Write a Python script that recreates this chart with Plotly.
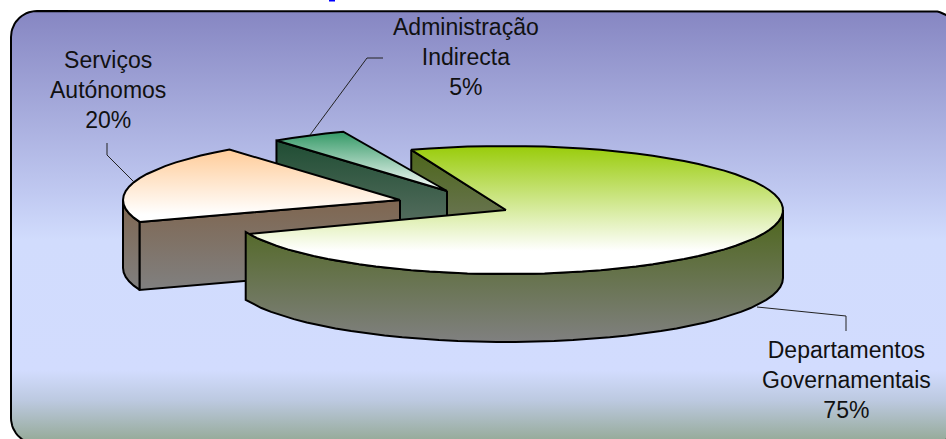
"""Exploded 3D-look pie chart on a rounded gradient panel."""

import numpy as np
import plotly.graph_objects as go

CATEGORIES = ["Departamentos<br>Governamentais", "Serviços<br>Autónomos", "Administração<br>Indirecta"]
VALUES = [75, 20, 5]

TOP_COLORS = [
    [[0, "#99cc0a"], [0.82, "#ffffff"], [1, "#ffffff"]],
    [[0, "#ffcc99"], [0.9, "#ffffff"], [1, "#ffffff"]],
    [[0, "#339966"], [1, "#ffffff"]],
]
WALL_COLORS = [
    [[0, "#4d661a"], [1, "#808080"]],
    [[0, "#7f6650"], [1, "#808080"]],
    [[0, "#1f4d33"], [1, "#6b7a70"]],
]
PANEL_COLORS = [
    [0, "#8686c2"], [0.42, "#c0c9f1"], [0.53, "#d1dcfd"],
    [0.83, "#d2dcfe"], [0.9, "#bcc9e0"], [1, "#93a893"],
]

RX, RY, DEPTH = 277, 64, 68
START_ANGLE = -20
CENTERS = [(506, 210), (400, 200), (447, 191)]
LABEL_POS = [(846, 380), (108, 90), (466, 57)]
LEADERS = [
    ([757, 846, 846], [307, 316, 331]),
    ([134, 107, 107], [182, 155, 143]),
    ([310, 367, 383], [135, 58, 58]),
]


def arc(center, a0, a1, drop=0):
    t = np.radians(np.arange(a0, a1 + 0.1, 4.0))
    return center[0] + RX * np.sin(t), center[1] - RY * np.cos(t) + drop


def add_poly(fig, x, y, colors):
    # the y axis runs downward, so the gradient stops are mirrored
    flipped = [[1 - p, c] for p, c in reversed(colors)]
    fig.add_trace(go.Scatter(
        x=list(x) + [x[0]], y=list(y) + [y[0]], mode="lines", fill="toself",
        line=dict(color="#000000", width=2),
        fillgradient=dict(type="vertical", colorscale=flipped),
        hoverinfo="skip", showlegend=False,
    ))


def add_top(fig, i, a0, a1):
    ax, ay = arc(CENTERS[i], a0, a1)
    add_poly(fig, [CENTERS[i][0], *ax], [CENTERS[i][1], *ay], TOP_COLORS[i])


def add_radial_wall(fig, i, angle):
    ax, ay = arc(CENTERS[i], angle, angle)
    cx, cy = CENTERS[i]
    add_poly(fig, [cx, ax[0], ax[0], cx], [cy, ay[0], ay[0] + DEPTH, cy + DEPTH], WALL_COLORS[i])


def add_outer_wall(fig, i, a0, a1):
    ax, ay = arc(CENTERS[i], a0, a1)
    bx, by = arc(CENTERS[i], a0, a1, DEPTH)
    add_poly(fig, [*ax, *bx[::-1]], [*ay, *by[::-1]], WALL_COLORS[i])


edges = START_ANGLE + np.cumsum([0] + [v / 100 * 360 for v in VALUES])

fig = go.Figure()

# rounded panel behind the pie
corner = np.radians(np.arange(0, 91, 6))
L, R, T, B, C = 11, 958, 11, 444, 26
panel_x = np.r_[L + C - C * np.cos(corner), R - C + C * np.sin(corner),
                R - C + C * np.cos(corner), L + C - C * np.sin(corner)]
panel_y = np.r_[T + C - C * np.sin(corner), T + C - C * np.cos(corner),
                B - C + C * np.sin(corner), B - C + C * np.cos(corner)]
add_poly(fig, panel_x, panel_y, PANEL_COLORS)

# back to front
add_radial_wall(fig, 0, edges[0])
add_radial_wall(fig, 2, edges[2])
add_top(fig, 2, edges[2], edges[3])
add_outer_wall(fig, 1, edges[1], 270)
add_radial_wall(fig, 1, edges[1])
add_top(fig, 1, edges[1], edges[2])
add_outer_wall(fig, 0, 90, edges[1])
add_top(fig, 0, edges[0], edges[1])

for lx, ly in LEADERS:
    fig.add_trace(go.Scatter(x=lx, y=ly, mode="lines", line=dict(color="#222222", width=1),
                             hoverinfo="skip", showlegend=False))

# sliver of blue ink left at the top edge of the source image
fig.add_trace(go.Scatter(x=[329, 335], y=[0.5, 0.5], mode="lines", line=dict(color="#0000ff", width=2),
                         hoverinfo="skip", showlegend=False))

for cat, val, (px, py) in zip(CATEGORIES, VALUES, LABEL_POS):
    fig.add_annotation(x=px, y=py, text=f"{cat}<br>{val}%", showarrow=False,
                       font=dict(family="Liberation Sans", size=23, color="#111111"))

fig.update_layout(
    width=946, height=439, margin=dict(l=0, r=0, t=0, b=0),
    paper_bgcolor="#ffffff", plot_bgcolor="#ffffff",
    xaxis=dict(range=[0, 946], visible=False, fixedrange=True),
    yaxis=dict(range=[439, 0], visible=False, fixedrange=True),
)
fig.write_html("out.html", config={"displayModeBar": False},
               post_script="document.body.style.margin='0';document.body.style.overflow='hidden';")
